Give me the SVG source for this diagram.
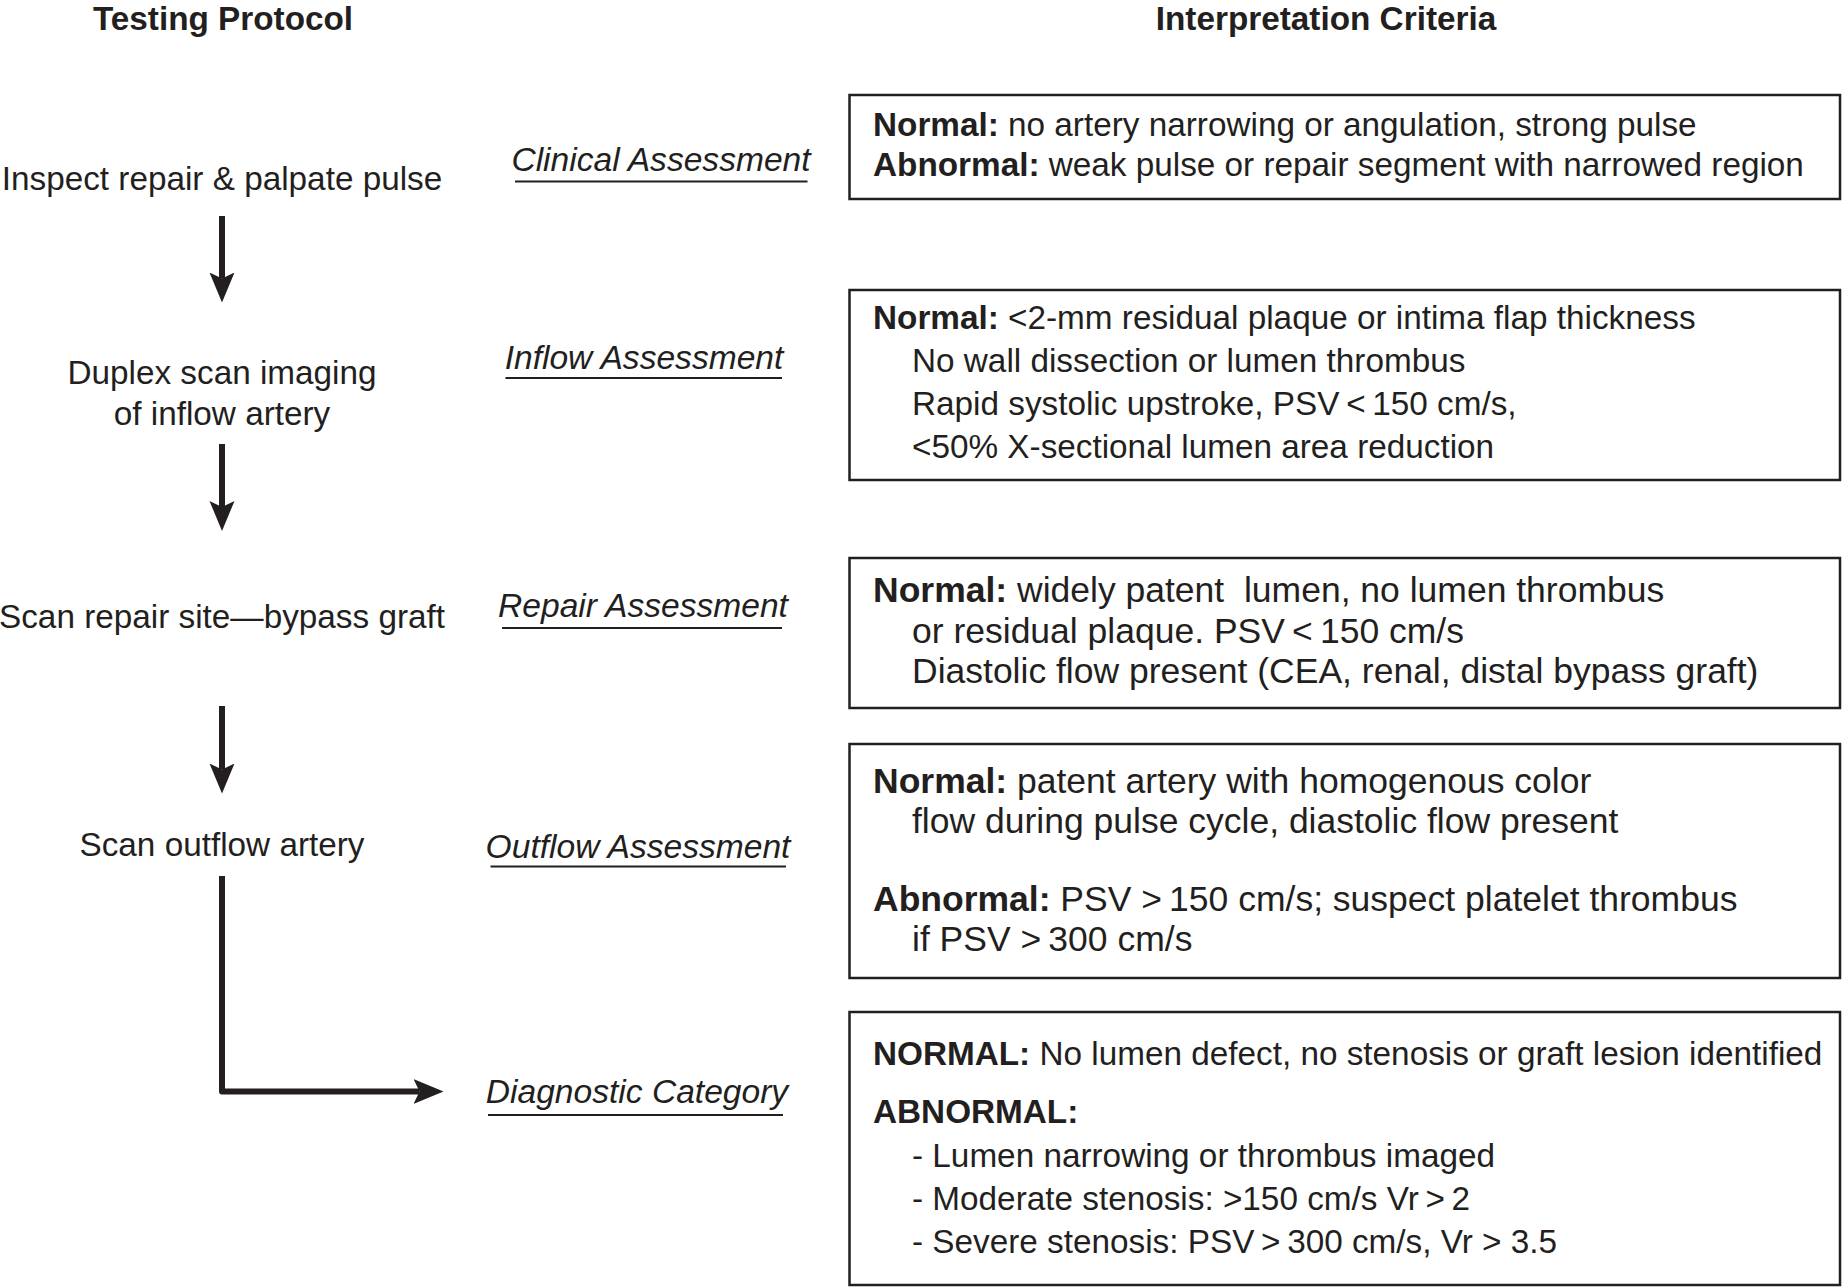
<svg xmlns="http://www.w3.org/2000/svg" width="1842" height="1288" viewBox="0 0 1842 1288">
<defs>
<style>
text{font-family:"Liberation Sans",Arial,Helvetica,sans-serif;font-size:33.3px;fill:#231f20}
.h{font-weight:bold}
.c{text-anchor:middle}
.i{font-style:italic;text-anchor:middle;font-size:33.6px}
.b{font-weight:bold}
.lg{font-size:35.5px}
.box{fill:none;stroke:#231f20;stroke-width:2.5}
.ul{stroke:#231f20;stroke-width:2}
.conn{fill:none;stroke:#231f20;stroke-width:6;stroke-linejoin:round}
</style>
<marker id="ah" markerUnits="userSpaceOnUse" viewBox="0 -13 30 26" refX="6" refY="0" markerWidth="30" markerHeight="26" orient="auto">
<path d="M0,-12.5 L30,0 L0,12.5 L6,0 Z" fill="#231f20"/>
</marker>
</defs>
<rect width="1842" height="1288" fill="#fff"/>

<g id="headers">
<text class="h c" x="223" y="30">Testing Protocol</text>
<text class="h c" x="1326" y="30">Interpretation Criteria</text>
</g>

<g id="step-inspect"><text class="c" x="222" y="190">Inspect repair &amp; palpate pulse</text></g>
<g id="step-duplex"><text class="c" x="222" y="384">Duplex scan imaging</text><text class="c" x="222" y="425">of inflow artery</text></g>
<g id="step-repair"><text class="c" x="222" y="628">Scan repair site—bypass graft</text></g>
<g id="step-outflow"><text class="c" x="222" y="856">Scan outflow artery</text></g>

<g id="label-clinical"><text class="i" x="661" y="171">Clinical Assessment</text><line class="ul" x1="515" y1="181.5" x2="807.5" y2="181.5"/></g>
<g id="label-inflow"><text class="i" x="644" y="369">Inflow Assessment</text><line class="ul" x1="505.5" y1="378" x2="782" y2="378"/></g>
<g id="label-repair"><text class="i" x="643" y="617">Repair Assessment</text><line class="ul" x1="502" y1="628" x2="782" y2="628"/></g>
<g id="label-outflow"><text class="i" x="638" y="858">Outflow Assessment</text><line class="ul" x1="490.5" y1="866.5" x2="786" y2="866.5"/></g>
<g id="label-diagnostic"><text class="i" x="637" y="1103">Diagnostic Category</text><line class="ul" x1="488" y1="1115" x2="783" y2="1115"/></g>

<g id="box-clinical">
<rect class="box" x="849.5" y="95" width="990.5" height="104"/>
<text x="873" y="136"><tspan class="b">Normal:</tspan> no artery narrowing or angulation, strong pulse</text>
<text x="873" y="176"><tspan class="b">Abnormal:</tspan> weak pulse or repair segment with narrowed region</text>
</g>

<g id="box-inflow">
<rect class="box" x="849.5" y="290" width="990.5" height="190"/>
<text x="873" y="329"><tspan class="b">Normal:</tspan> &lt;2-mm residual plaque or intima flap thickness</text>
<text x="912" y="372">No wall dissection or lumen thrombus</text>
<text x="912" y="415">Rapid systolic upstroke, PSV&#8201;&lt;&#8201;150 cm/s,</text>
<text x="912" y="458">&lt;50% X-sectional lumen area reduction</text>
</g>

<g id="box-repair">
<rect class="box" x="849.5" y="558" width="990.5" height="150"/>
<text class="lg" x="873" y="602" xml:space="preserve"><tspan class="b">Normal:</tspan> widely patent  lumen, no lumen thrombus</text>
<text class="lg" x="912" y="643">or residual plaque. PSV&#8201;&lt;&#8201;150 cm/s</text>
<text class="lg" x="912" y="683">Diastolic flow present (CEA, renal, distal bypass graft)</text>
</g>

<g id="box-outflow">
<rect class="box" x="849.5" y="744" width="990.5" height="234"/>
<text class="lg" x="873" y="793"><tspan class="b">Normal:</tspan> patent artery with homogenous color</text>
<text class="lg" x="912" y="833">flow during pulse cycle, diastolic flow present</text>
<text class="lg" x="873" y="911"><tspan class="b">Abnormal:</tspan> PSV &gt;&#8201;150 cm/s; suspect platelet thrombus</text>
<text class="lg" x="912" y="951">if PSV &gt;&#8201;300 cm/s</text>
</g>

<g id="box-diagnostic">
<rect class="box" x="849.5" y="1012" width="990.5" height="273"/>
<text x="873" y="1065"><tspan class="b">NORMAL:</tspan> No lumen defect, no stenosis or graft lesion identified</text>
<text class="b" x="873" y="1123">ABNORMAL:</text>
<text x="912" y="1167">- Lumen narrowing or thrombus imaged</text>
<text x="912" y="1210">- Moderate stenosis: &gt;150 cm/s Vr&#8201;&gt;&#8201;2</text>
<text x="912" y="1253">- Severe stenosis: PSV&#8201;&gt;&#8201;300 cm/s, Vr &gt; 3.5</text>
</g>

<g id="connectors">
<path class="conn" d="M222,216 V278.5" marker-end="url(#ah)"/>
<path class="conn" d="M222,444 V507" marker-end="url(#ah)"/>
<path class="conn" d="M222,706 V769.5" marker-end="url(#ah)"/>
<path class="conn" d="M222,876 V1091.5 H419.5" marker-end="url(#ah)"/>
</g>
</svg>
